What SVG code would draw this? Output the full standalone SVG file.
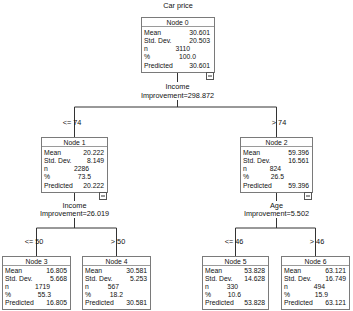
<svg xmlns="http://www.w3.org/2000/svg" width="353" height="311" viewBox="0 0 353 311">
<style>
text{font-family:"Liberation Sans",Arial,sans-serif;font-size:6.8px;fill:#111}
.lb{font-size:7.3px}
.c{text-anchor:middle}
.r{text-anchor:end}
.box{fill:#fff;stroke:#7a7a7a;stroke-width:1}
.sep{stroke:#9a9a9a;stroke-width:1;fill:none}
.con{stroke:#333;stroke-width:1;fill:none}
.mb{fill:#fff;stroke:#555;stroke-width:1}
</style>
<rect width="353" height="311" fill="#fff"/>
<text class="c lb" x="178" y="8">Car price</text>
<g id="connectors">
<path class="con" d="M177.5 72V82M177.5 100V107M74.5 107H276.5M74.5 107V137M276.5 107V137"/>
<path class="con" d="M74.5 192V201M74.5 218V228M36.5 228H116.5M36.5 228V256M116.5 228V256"/>
<path class="con" d="M276.5 192V201M276.5 218V228M235.5 228H315.5M235.5 228V256M315.5 228V256"/>
<text class="c lb" x="177.5" y="89">Income</text>
<text class="c lb" x="177.5" y="98">Improvement=298.872</text>
<text class="c lb" x="72" y="125">&lt;= 74</text>
<text class="c lb" x="279" y="125">&gt; 74</text>
<text class="c lb" x="74.5" y="208">Income</text>
<text class="c lb" x="74.5" y="216">Improvement=26.019</text>
<text class="c lb" x="276.5" y="208">Age</text>
<text class="c lb" x="276.5" y="216">Improvement=5.502</text>
<text class="c lb" x="34" y="244">&lt;= 50</text>
<text class="c lb" x="118" y="244">&gt; 50</text>
<text class="c lb" x="234" y="244">&lt;= 46</text>
<text class="c lb" x="317" y="244">&gt; 46</text>
</g>
<g id="node0">
<rect class="box" x="141.5" y="17.5" width="73" height="55"/>
<path class="sep" d="M142 26.5H214"/>
<text class="c" x="177.5" y="24.5">Node 0</text>
<text x="144" y="34.5">Mean</text><text class="r" x="210" y="34.5">30.601</text>
<text x="144" y="42.8">Std. Dev.</text><text class="r" x="210" y="42.8">20.503</text>
<text x="144" y="51.1">n</text><text class="r" x="190" y="51.1">3110</text>
<text x="144" y="59.4">%</text><text class="r" x="196" y="59.4">100.0</text>
<text x="144" y="67.7">Predicted</text><text class="r" x="210" y="67.7">30.601</text>
<rect class="mb" x="206.5" y="72.5" width="7" height="7"/><path class="con" d="M208 76H212"/>
</g>
<g id="node1">
<rect class="box" x="41.5" y="137.5" width="66" height="55"/>
<path class="sep" d="M42 146.5H107"/>
<text class="c" x="74.5" y="144.5">Node 1</text>
<text x="44" y="154.5">Mean</text><text class="r" x="104" y="154.5">20.222</text>
<text x="44" y="162.8">Std. Dev.</text><text class="r" x="104" y="162.8">8.149</text>
<text x="44" y="171.1">n</text><text class="r" x="89" y="171.1">2286</text>
<text x="44" y="179.4">%</text><text class="r" x="91" y="179.4">73.5</text>
<text x="44" y="187.7">Predicted</text><text class="r" x="104" y="187.7">20.222</text>
<rect class="mb" x="99.5" y="192.5" width="7" height="7"/><path class="con" d="M101 196H105"/>
</g>
<g id="node2">
<rect class="box" x="240.5" y="137.5" width="72" height="55"/>
<path class="sep" d="M241 146.5H312"/>
<text class="c" x="276.5" y="144.5">Node 2</text>
<text x="243" y="154.5">Mean</text><text class="r" x="309" y="154.5">59.396</text>
<text x="243" y="162.8">Std. Dev.</text><text class="r" x="309" y="162.8">16.561</text>
<text x="243" y="171.1">n</text><text class="r" x="281" y="171.1">824</text>
<text x="243" y="179.4">%</text><text class="r" x="284" y="179.4">26.5</text>
<text x="243" y="187.7">Predicted</text><text class="r" x="309" y="187.7">59.396</text>
<rect class="mb" x="304.5" y="192.5" width="7" height="7"/><path class="con" d="M306 196H310"/>
</g>
<g id="node3">
<rect class="box" x="2.5" y="256.5" width="68" height="53"/>
<path class="sep" d="M3 265.5H70"/>
<text class="c" x="36.5" y="263.5">Node 3</text>
<text x="5" y="273">Mean</text><text class="r" x="67" y="273">16.805</text>
<text x="5" y="281">Std. Dev.</text><text class="r" x="67" y="281">5.668</text>
<text x="5" y="289">n</text><text class="r" x="50" y="289">1719</text>
<text x="5" y="297">%</text><text class="r" x="51" y="297">55.3</text>
<text x="5" y="305">Predicted</text><text class="r" x="67" y="305">16.805</text>
</g>
<g id="node4">
<rect class="box" x="82.5" y="256.5" width="68" height="53"/>
<path class="sep" d="M83 265.5H150"/>
<text class="c" x="116.5" y="263.5">Node 4</text>
<text x="85" y="273">Mean</text><text class="r" x="147" y="273">30.581</text>
<text x="85" y="281">Std. Dev.</text><text class="r" x="147" y="281">5.253</text>
<text x="85" y="289">n</text><text class="r" x="119" y="289">567</text>
<text x="85" y="297">%</text><text class="r" x="123" y="297">18.2</text>
<text x="85" y="305">Predicted</text><text class="r" x="147" y="305">30.581</text>
</g>
<g id="node5">
<rect class="box" x="202.5" y="256.5" width="66" height="53"/>
<path class="sep" d="M203 265.5H268"/>
<text class="c" x="235.5" y="263.5">Node 5</text>
<text x="205" y="273">Mean</text><text class="r" x="265" y="273">53.828</text>
<text x="205" y="281">Std. Dev.</text><text class="r" x="265" y="281">14.628</text>
<text x="205" y="289">n</text><text class="r" x="238" y="289">330</text>
<text x="205" y="297">%</text><text class="r" x="241" y="297">10.6</text>
<text x="205" y="305">Predicted</text><text class="r" x="265" y="305">53.828</text>
</g>
<g id="node6">
<rect class="box" x="281.5" y="256.5" width="68" height="53"/>
<path class="sep" d="M282 265.5H349"/>
<text class="c" x="315.5" y="263.5">Node 6</text>
<text x="284" y="273">Mean</text><text class="r" x="346" y="273">63.121</text>
<text x="284" y="281">Std. Dev.</text><text class="r" x="346" y="281">16.749</text>
<text x="284" y="289">n</text><text class="r" x="325" y="289">494</text>
<text x="284" y="297">%</text><text class="r" x="328" y="297">15.9</text>
<text x="284" y="305">Predicted</text><text class="r" x="346" y="305">63.121</text>
</g>
</svg>
